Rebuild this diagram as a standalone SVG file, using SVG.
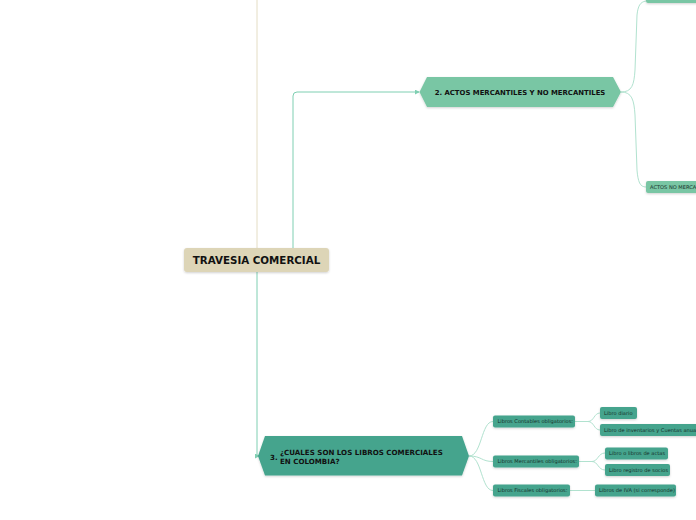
<svg xmlns="http://www.w3.org/2000/svg" width="696" height="520" viewBox="0 0 696 520">
<defs>
<style>
.t{font-family:"DejaVu Sans","Liberation Sans",sans-serif;fill:#111;}
.b{font-weight:bold;}
.s{font-size:5.1px;fill:#16302a;}
.c1{fill:none;stroke:#7fcfb2;stroke-width:1;}
.c2{fill:none;stroke:#b1e2cf;stroke-width:1;}
.c0{fill:none;stroke:#e4ddc4;stroke-width:1;}
.n3{fill:#45a48d;}
.n2{fill:#79c6a4;}
</style>
<filter id="sh" x="-10%" y="-30%" width="120%" height="160%">
<feDropShadow dx="0" dy="1" stdDeviation="0.8" flood-color="#000" flood-opacity="0.18"/>
</filter>
<marker id="ar" viewBox="0 0 6 6" refX="5" refY="3" markerWidth="5" markerHeight="5" orient="auto">
<path d="M0,0 L6,3 L0,6 z" fill="#7fcfb2"/>
</marker>
</defs>
<g id="connectors">
<path class="c0" d="M257,0 V248"/>
<path class="c1" d="M293,248 V96 Q293,92 297,92 H419" marker-end="url(#ar)"/>
<path class="c1" d="M257,272 V456 H259" marker-end="url(#ar)"/>
<path class="c2" d="M621,92 C632,92 634,85 635,70 L637,15 C638,6 640,2 646,1"/>
<path class="c2" d="M621,92 C632,92 634,100 635,115 L637,170 C638,182 640,187 646,187"/>
<path class="c2" d="M469,456 C482,456 481,421.5 493,421.5"/>
<path class="c2" d="M469,456 C482,456 481,461.5 493,461.5"/>
<path class="c2" d="M469,456 C482,456 481,490.5 493,490.5"/>
<path class="c2" d="M575,421.5 H588 C594,421.5 594,413 600,413"/>
<path class="c2" d="M575,421.5 H588 C594,421.5 594,430 600,430"/>
<path class="c2" d="M579,461.5 H592 C598,461.5 598,453 605,453"/>
<path class="c2" d="M579,461.5 H592 C598,461.5 598,470 605,470"/>
<path class="c2" d="M570,490.5 H595"/>
</g>
<g id="node-top">
<rect class="n2" x="646" y="-10" width="60" height="13" rx="2" filter="url(#sh)"/>
</g>
<g id="node-main">
<rect x="184" y="248" width="145" height="24" rx="3" fill="#ddd5b7" filter="url(#sh)"/>
<text class="t b" x="256.5" y="263.5" font-size="10.3" text-anchor="middle">TRAVESIA COMERCIAL</text>
</g>
<g id="node-2">
<path class="n2" d="M419.5,92 L427,77 H613 L621,92 L613,107 H427 Z" filter="url(#sh)"/>
<text class="t b" x="520" y="94.5" font-size="6.9" text-anchor="middle">2. ACTOS MERCANTILES Y NO MERCANTILES</text>
</g>
<g id="node-actos-no">
<rect class="n2" x="646" y="181" width="60" height="12" rx="2" filter="url(#sh)"/>
<text class="t s" x="650" y="188.8">ACTOS NO MERCANTILES</text>
</g>
<g id="node-3">
<path class="n3" d="M258,456 L265,436 H462 L469,456 L462,475.5 H265 Z" filter="url(#sh)"/>
<text class="t b" x="270" y="459.5" font-size="7.1">3.</text>
<text class="t b" x="280" y="454.5" font-size="7.1">¿CUALES SON LOS LIBROS COMERCIALES</text>
<text class="t b" x="280" y="463.5" font-size="7.1">EN COLOMBIA?</text>
</g>
<g id="node-contables">
<rect class="n3" x="493" y="415.5" width="82" height="12" rx="2" filter="url(#sh)"/>
<text class="t s" x="497.5" y="423.3">Libros Contables obligatorios:</text>
</g>
<g id="node-mercantiles">
<rect class="n3" x="493" y="455.5" width="86" height="12" rx="2" filter="url(#sh)"/>
<text class="t s" x="497.5" y="463.3">Libros Mercantiles obligatorios:</text>
</g>
<g id="node-fiscales">
<rect class="n3" x="493" y="484.5" width="77" height="12" rx="2" filter="url(#sh)"/>
<text class="t s" x="497.5" y="492.3">Libros Fiscales obligatorios:</text>
</g>
<g id="node-diario">
<rect class="n3" x="600" y="407" width="37" height="12" rx="2" filter="url(#sh)"/>
<text class="t s" x="604" y="414.8">Libro diario</text>
</g>
<g id="node-inventarios">
<rect class="n3" x="600" y="424" width="106" height="12" rx="2" filter="url(#sh)"/>
<text class="t s" x="604" y="431.8">Libro de inventarios y Cuentas anuales</text>
</g>
<g id="node-actas">
<rect class="n3" x="605" y="447.5" width="63" height="12" rx="2" filter="url(#sh)"/>
<text class="t s" x="609" y="455.3">Libro o libros de actas</text>
</g>
<g id="node-socios">
<rect class="n3" x="605" y="464" width="65" height="12" rx="2" filter="url(#sh)"/>
<text class="t s" x="609" y="471.8">Libro registro de socios</text>
</g>
<g id="node-iva">
<rect class="n3" x="595" y="484.5" width="81" height="12" rx="2" filter="url(#sh)"/>
<text class="t s" x="599" y="492.3">Libros de IVA (si corresponde)</text>
</g>
</svg>
